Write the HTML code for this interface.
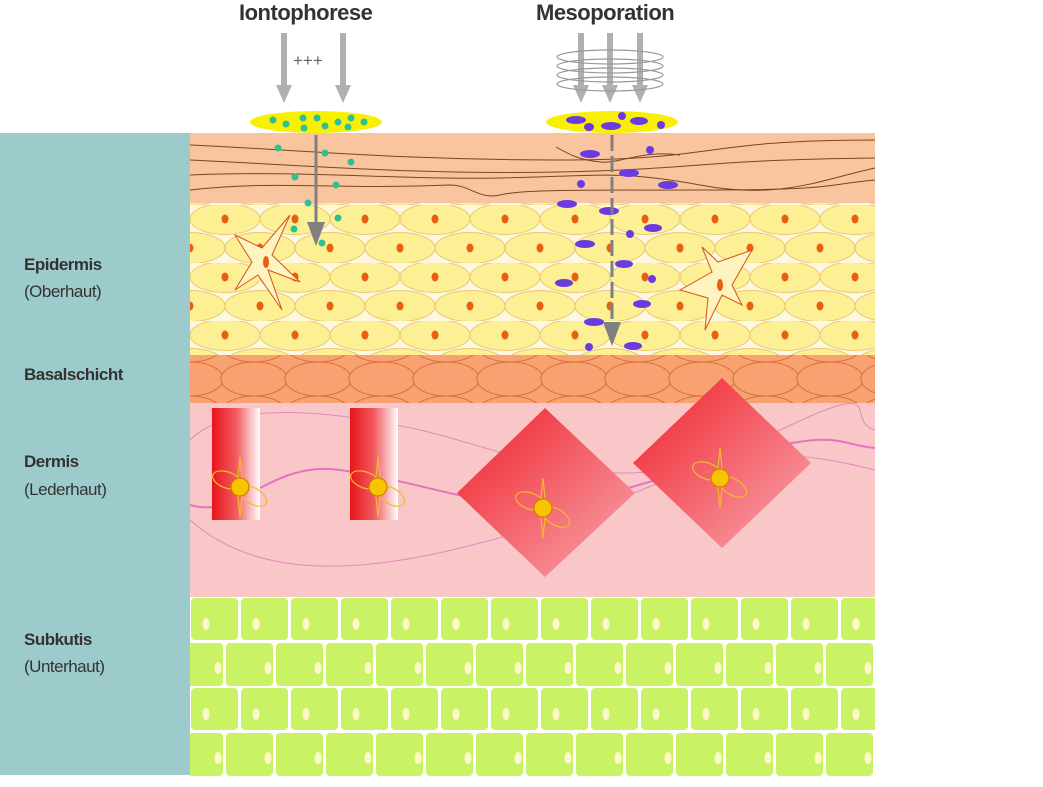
<!DOCTYPE html>
<html><head><meta charset="utf-8"><style>
html,body{margin:0;padding:0;background:#fff;}
body{width:1043px;height:787px;position:relative;overflow:hidden;font-family:"Liberation Sans",sans-serif;}
svg{position:absolute;left:0;top:0;}
.l{position:absolute;left:24px;font-size:17px;color:#333;letter-spacing:-0.5px;}
.b{font-weight:bold;}
.t{position:absolute;top:0px;font-size:22px;font-weight:bold;color:#333;letter-spacing:-0.5px;}
</style></head><body>
<svg width="1043" height="787" viewBox="0 0 1043 787">
<defs>
<pattern id="yc" x="190" y="205" width="70" height="58" patternUnits="userSpaceOnUse">
<rect width="70" height="58" fill="#fff8e0"/>
<ellipse cx="35" cy="14" rx="35" ry="15.5" fill="#fcef94" stroke="#e8c870" stroke-width="1"/>
<ellipse cx="0" cy="43" rx="35" ry="15.5" fill="#fcef94" stroke="#e8c870" stroke-width="1"/>
<ellipse cx="70" cy="43" rx="35" ry="15.5" fill="#fcef94" stroke="#e8c870" stroke-width="1"/>
<ellipse cx="35" cy="14" rx="3.5" ry="4.5" fill="#e8600f"/>
<ellipse cx="0" cy="43" rx="3.5" ry="4.5" fill="#e8600f"/>
<ellipse cx="70" cy="43" rx="3.5" ry="4.5" fill="#e8600f"/>
</pattern>
<pattern id="bc" x="190" y="345" width="64" height="34" patternUnits="userSpaceOnUse">
<rect width="64" height="34" fill="#f4915a"/>
<ellipse cx="32" cy="17" rx="33" ry="17" fill="#f8a272" stroke="#d8703a" stroke-width="1"/>
<ellipse cx="0" cy="34" rx="33" ry="17" fill="#f8a272" stroke="#d8703a" stroke-width="1"/>
<ellipse cx="64" cy="34" rx="33" ry="17" fill="#f8a272" stroke="#d8703a" stroke-width="1"/>
<ellipse cx="0" cy="0" rx="33" ry="17" fill="#f8a272" stroke="#d8703a" stroke-width="1"/>
<ellipse cx="64" cy="0" rx="33" ry="17" fill="#f8a272" stroke="#d8703a" stroke-width="1"/>
</pattern>
<pattern id="g1" x="190" y="597" width="50" height="90" patternUnits="userSpaceOnUse">
<rect width="50" height="90" fill="#fff"/>
<rect x="1" y="1" width="47" height="42" rx="4" fill="#c9f365"/>
<rect x="-14" y="46" width="47" height="43" rx="4" fill="#c9f365"/>
<rect x="36" y="46" width="47" height="43" rx="4" fill="#c9f365"/>
<ellipse cx="16" cy="27" rx="3.5" ry="6" fill="#fdf8c8"/>
<ellipse cx="28" cy="71" rx="3.5" ry="6" fill="#fdf8c8"/>
</pattern>
<linearGradient id="rg" x1="0" x2="1" y1="0" y2="0"><stop offset="0" stop-color="#e8151c"/><stop offset="0.5" stop-color="#f05a5e"/><stop offset="1" stop-color="#fff"/></linearGradient>
<linearGradient id="dg" x1="0" y1="0" x2="1" y2="1"><stop offset="0" stop-color="#f0202a"/><stop offset="1" stop-color="#f8a8b0"/></linearGradient>
<marker id="ah" markerWidth="8" markerHeight="6" refX="6" refY="3" orient="auto" markerUnits="strokeWidth"><path d="M0,0 L8,3 L0,6z" fill="#808080"/></marker>
</defs>
<rect x="0" y="133" width="190" height="642" fill="#9dcbcc"/>
<rect x="190" y="597" width="685" height="180" fill="url(#g1)"/>
<rect x="190" y="395" width="685" height="202" fill="#f9c7c8"/>
<path d="M190,520 C280,600 430,560 560,520 S720,430 875,470" fill="none" stroke="#e08ab8" stroke-width="1"/>
<path d="M190,440 C230,400 330,410 420,430 S620,510 760,440 S840,420 875,430" fill="none" stroke="#e08ab8" stroke-width="1"/>
<path d="M190,505 C240,520 270,460 340,470 S460,500 520,505 S680,470 760,450 S840,445 875,448" fill="none" stroke="#e673c0" stroke-width="2"/>
<rect x="190" y="345" width="685" height="58" fill="url(#bc)"/>
<rect x="190" y="203" width="685" height="152" fill="url(#yc)"/>
<rect x="190" y="133" width="685" height="70" fill="#f8c59e"/>
<g fill="none" stroke="#7a4520" stroke-width="1">
<path d="M190,145 C300,150 400,160 560,160 S700,140 875,140"/>
<path d="M190,160 C300,165 420,175 560,172 S700,160 875,158"/>
<path d="M190,175 C300,170 400,180 500,178 S620,170 700,185 S820,180 875,168"/>
<path d="M190,190 C280,180 330,190 450,185 C470,185 480,200 500,195 C520,190 560,190 700,190 S820,185 875,180"/>
<path d="M556,147 C570,155 580,160 600,162 S640,150 680,155"/>
</g>
<path d="M235,235 L262,248 L290,215 L272,255 L300,282 L268,270 L282,310 L258,275 L235,290 L252,262z" fill="#fdf4c0" stroke="#d85020" stroke-width="1"/>
<ellipse cx="266" cy="262" rx="3" ry="6" fill="#e8600f"/>
<path d="M680,290 L712,272 L702,247 L718,262 L752,250 L732,285 L742,305 L722,295 L705,330 L708,298z" fill="#fdf4c0" stroke="#d85020" stroke-width="1"/>
<ellipse cx="720" cy="285" rx="3" ry="6" fill="#e8600f"/>
<rect x="212" y="408" width="48" height="112" fill="url(#rg)"/>
<rect x="350" y="408" width="48" height="112" fill="url(#rg)"/>
<path d="M545,408 L635,493 L545,577 L457,493z" fill="url(#dg)"/>
<path d="M722,378 L811,463 L722,548 L633,463z" fill="url(#dg)"/>
<g fill="none" stroke="#f4b830" stroke-width="1.2">
<g transform="translate(240,487)"><path d="M-3,0 L0,-30 L3,0 L0,30z"/><ellipse cx="-13" cy="-7" rx="15" ry="8" transform="rotate(20 -13 -7)"/><ellipse cx="13" cy="9" rx="15" ry="8" transform="rotate(30 13 9)"/><circle r="9" fill="#f8c400" stroke="#d08000"/></g>
<g transform="translate(378,487)"><path d="M-3,0 L0,-30 L3,0 L0,30z"/><ellipse cx="-13" cy="-7" rx="15" ry="8" transform="rotate(20 -13 -7)"/><ellipse cx="13" cy="9" rx="15" ry="8" transform="rotate(30 13 9)"/><circle r="9" fill="#f8c400" stroke="#d08000"/></g>
<g transform="translate(543,508)"><path d="M-3,0 L0,-30 L3,0 L0,30z"/><ellipse cx="-13" cy="-7" rx="15" ry="8" transform="rotate(20 -13 -7)"/><ellipse cx="13" cy="9" rx="15" ry="8" transform="rotate(30 13 9)"/><circle r="9" fill="#f8c400" stroke="#d08000"/></g>
<g transform="translate(720,478)"><path d="M-3,0 L0,-30 L3,0 L0,30z"/><ellipse cx="-13" cy="-7" rx="15" ry="8" transform="rotate(20 -13 -7)"/><ellipse cx="13" cy="9" rx="15" ry="8" transform="rotate(30 13 9)"/><circle r="9" fill="#f8c400" stroke="#d08000"/></g>
</g>
<g fill="#b0b0b0">
<path d="M281,33h6v52h5l-8,18l-8,-18h5z"/>
<path d="M340,33h6v52h5l-8,18l-8,-18h5z"/>
<path d="M578,33h6v52h5l-8,18l-8,-18h5z"/>
<path d="M607,33h6v52h5l-8,18l-8,-18h5z"/>
<path d="M637,33h6v52h5l-8,18l-8,-18h5z"/>
</g>
<text x="293" y="66" font-family="Liberation Sans,sans-serif" font-size="17" fill="#666">+++</text>
<g fill="none" stroke="#999" stroke-width="1.2">
<ellipse cx="610" cy="57" rx="53" ry="7"/><ellipse cx="610" cy="66" rx="53" ry="7"/><ellipse cx="610" cy="75" rx="53" ry="7"/><ellipse cx="610" cy="84" rx="53" ry="7"/>
</g>
<ellipse cx="316" cy="122" rx="66" ry="11" fill="#f8f000"/>
<ellipse cx="612" cy="122" rx="66" ry="11" fill="#f8f000"/>
<g fill="#30c090">
<circle cx="273" cy="120" r="3.5"/><circle cx="286" cy="124" r="3.5"/><circle cx="303" cy="118" r="3.5"/><circle cx="317" cy="118" r="3.5"/><circle cx="304" cy="128" r="3.5"/><circle cx="325" cy="126" r="3.5"/><circle cx="338" cy="122" r="3.5"/><circle cx="351" cy="118" r="3.5"/><circle cx="348" cy="127" r="3.5"/><circle cx="364" cy="122" r="3.5"/>
<circle cx="278" cy="148" r="3.5"/><circle cx="325" cy="153" r="3.5"/><circle cx="351" cy="162" r="3.5"/><circle cx="295" cy="177" r="3.5"/><circle cx="336" cy="185" r="3.5"/><circle cx="308" cy="203" r="3.5"/><circle cx="338" cy="218" r="3.5"/><circle cx="294" cy="229" r="3.5"/><circle cx="322" cy="243" r="3.5"/>
</g>
<g fill="#6a3ce0">
<ellipse cx="576" cy="120" rx="10" ry="4"/><ellipse cx="589" cy="127" rx="5" ry="4"/><ellipse cx="611" cy="126" rx="10" ry="4"/><ellipse cx="622" cy="116" rx="4" ry="4"/><ellipse cx="639" cy="121" rx="9" ry="4"/><ellipse cx="661" cy="125" rx="4" ry="4"/>
<ellipse cx="590" cy="154" rx="10" ry="4"/><ellipse cx="650" cy="150" rx="4" ry="4"/><ellipse cx="629" cy="173" rx="10" ry="4"/><ellipse cx="581" cy="184" rx="4" ry="4"/><ellipse cx="668" cy="185" rx="10" ry="4"/><ellipse cx="567" cy="204" rx="10" ry="4"/><ellipse cx="609" cy="211" rx="10" ry="4"/><ellipse cx="653" cy="228" rx="9" ry="4"/><ellipse cx="585" cy="244" rx="10" ry="4"/><ellipse cx="630" cy="234" rx="4" ry="4"/><ellipse cx="624" cy="264" rx="9" ry="4"/><ellipse cx="564" cy="283" rx="9" ry="4"/><ellipse cx="652" cy="279" rx="4" ry="4"/><ellipse cx="642" cy="304" rx="9" ry="4"/><ellipse cx="594" cy="322" rx="10" ry="4"/><ellipse cx="633" cy="346" rx="9" ry="4"/><ellipse cx="589" cy="347" rx="4" ry="4"/>
</g>
<line x1="316" y1="135" x2="316" y2="240" stroke="#808080" stroke-width="3" marker-end="url(#ah)"/>
<line x1="612" y1="135" x2="612" y2="340" stroke="#808080" stroke-width="3" stroke-dasharray="16,5" marker-end="url(#ah)"/>
</svg>
<div class="t" style="left:239px;">Iontophorese</div>
<div class="t" style="left:536px;">Mesoporation</div>
<div class="l b" style="top:255px;">Epidermis</div>
<div class="l" style="top:282px;">(Oberhaut)</div>
<div class="l b" style="top:365px;">Basalschicht</div>
<div class="l b" style="top:452px;">Dermis</div>
<div class="l" style="top:480px;">(Lederhaut)</div>
<div class="l b" style="top:630px;">Subkutis</div>
<div class="l" style="top:657px;">(Unterhaut)</div>
</body></html>
